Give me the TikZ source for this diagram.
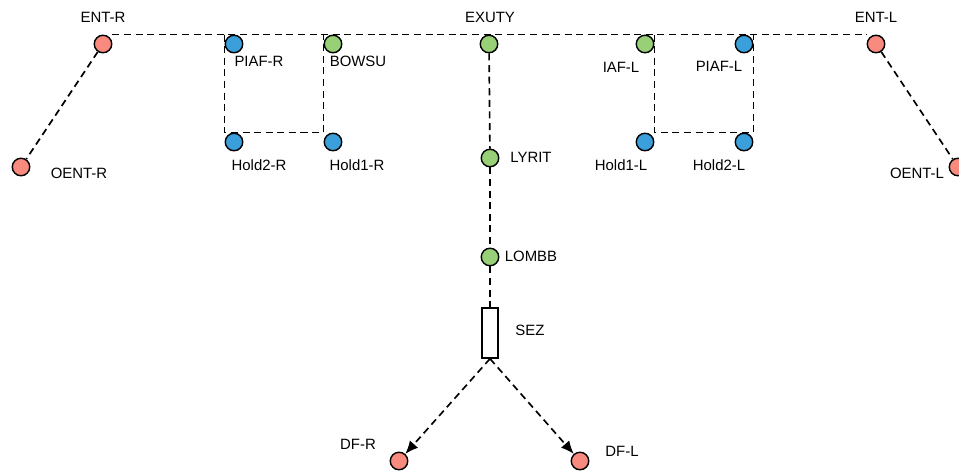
\documentclass[tikz,border=0pt]{standalone}
\usepackage{fontspec}
\setmainfont{Liberation Sans}
\usetikzlibrary{arrows.meta,positioning,backgrounds}
\definecolor{ptred}{HTML}{F88A7E}
\definecolor{ptblue}{HTML}{3A9FDB}
\definecolor{ptgreen}{HTML}{97D077}

\begin{document}
\begin{tikzpicture}[x=0.02cm,y=-0.02cm,
      pt/.style={circle,draw,line width=0.8pt,minimum size=0.35cm,inner sep=0pt},
      lbl/.style={font=\fontsize{8.5}{10}\selectfont,inner sep=0pt},
      conn/.style={line width=0.95pt,dash pattern=on 4pt off 2.6pt},
      arr/.style={conn,-{Latex[length=2.6mm,width=2.2mm]}}]
    \useasboundingbox (0,0) rectangle (959,470);
    % outer nodes
    \node[pt,fill=ptred] (entr) at (103,44) {};
    \node[pt,fill=ptred] (oentr) at (21,167) {};
    \node[pt,fill=ptred] (entl) at (876,44) {};
    \node[pt,fill=ptred] (oentl) at (958,167) {};
    % right side
    \node[pt,fill=ptblue] (piafr) at (234,44) {};
    \node[pt,fill=ptgreen] (bowsu) at (333,44) {};
    \node[pt,fill=ptblue] (hold2r) at (234,142) {};
    \node[pt,fill=ptblue] (hold1r) at (333,142) {};
    % middle column
    \node[pt,fill=ptgreen] (exuty) at (489,44) {};
    \node[pt,fill=ptgreen] (lyrit) at (490,158) {};
    \node[pt,fill=ptgreen] (lombb) at (490,257) {};
    \node[draw,line width=0.8pt,minimum width=0.32cm,minimum height=1cm,inner sep=0pt] (sez) at (490,333) {};
    \node[pt,fill=ptred] (dfr) at (399,461) {};
    \node[pt,fill=ptred] (dfl) at (580,461) {};
    % left side
    \node[pt,fill=ptgreen] (iafl) at (645,44) {};
    \node[pt,fill=ptblue] (piafl) at (744,44) {};
    \node[pt,fill=ptblue] (hold1l) at (645,142) {};
    \node[pt,fill=ptblue] (hold2l) at (744,142) {};

    % labels
    \node[lbl] (lentr) at (103,17) {ENT-R};
    \node[lbl] (loentr) at (79,173) {OENT-R};
    \node[lbl] (lpiafr) at (259,61) {PIAF-R};
    \node[lbl] (lbowsu) at (358,61) {BOWSU};
    \node[lbl] (lhold2r) at (259,165) {Hold2-R};
    \node[lbl] (lhold1r) at (357,165) {Hold1-R};
    \node[lbl] (lexuty) at (490,17) {EXUTY};
    \node[lbl] (llyrit) at (531,157) {LYRIT};
    \node[lbl] (llombb) at (531,256) {LOMBB};
    \node[lbl] (lsez) at (530,330) {SEZ};
    \node[lbl] (liafl) at (621,67) {IAF-L};
    \node[lbl] (lpiafl) at (719,66) {PIAF-L};
    \node[lbl] (lhold1l) at (621,165) {Hold1-L};
    \node[lbl] (lhold2l) at (719,165) {Hold2-L};
    \node[lbl] (lentl) at (876,17) {ENT-L};
    \node[lbl] (loentl) at (917,173) {OENT-L};
    \node[lbl] (ldfr) at (358,444) {DF-R};
    \node[lbl] (ldfl) at (622,451) {DF-L};

    \begin{scope}[on background layer]
      \draw[conn] (entr.north -| entr.east) -- (entl.north -| entl.west);
      \draw[conn] (entr) -- (oentr);
      \draw[conn] (entl) -- (oentl);
      \draw[conn] (piafr.north -| piafr.west) -- (hold2r.north -| hold2r.west)
        -- (hold1r.north -| hold1r.west) -- (bowsu.north -| bowsu.west);
      \draw[conn] (iafl.north -| iafl.east) -- (hold1l.north -| hold1l.east)
        -- (hold2l.north -| hold2l.east) -- (piafl.north -| piafl.east);
      \draw[conn] (exuty) -- (lyrit);
      \draw[conn] (lyrit) -- (lombb);
      \draw[conn] (lombb) -- (sez);
      \draw[arr] (sez.south) -- (dfr);
      \draw[arr] (sez.south) -- (dfl);
    \end{scope}
  \end{tikzpicture}
\end{document}
